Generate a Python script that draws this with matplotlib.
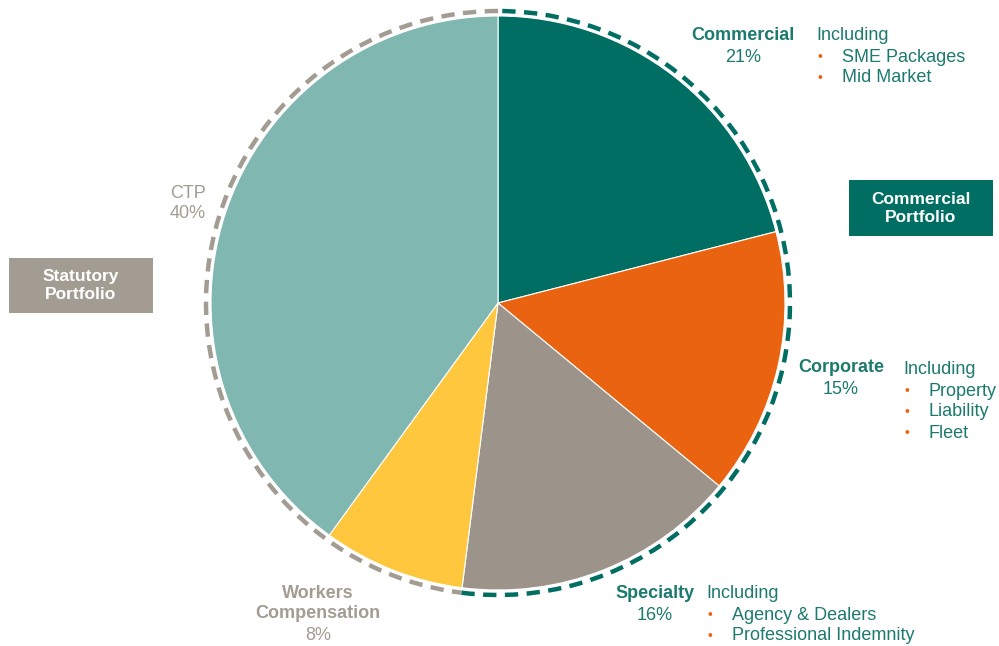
import numpy as np
import matplotlib.pyplot as plt
import matplotlib.patches as patches

plt.rcParams['font.family'] = ['Liberation Sans', 'DejaVu Sans']

# Data
segments = ['Commercial', 'Corporate', 'Specialty', 'Workers Compensation', 'CTP']
shares = [21, 15, 16, 8, 40]
colors = ['#006e63', '#e96310', '#9c948a', '#fec73d', '#80b7b1']
portfolios = ['Commercial\nPortfolio', 'Statutory\nPortfolio']
portfolio_share = [sum(shares[:3]), sum(shares[3:])]
portfolio_colors = ['#006e63', '#a39c93']
includes = {
    'Commercial': ['SME Packages', 'Mid Market'],
    'Corporate': ['Property', 'Liability', 'Fleet'],
    'Specialty': ['Agency & Dealers', 'Professional Indemnity'],
}

W, H = 999, 646
fig = plt.figure(figsize=(W / 100, H / 100), dpi=100)
ax = fig.add_axes([0, 0, 1, 1])

cx, cy, r = 498, H - 303, 287

ax.pie(shares, colors=colors, startangle=90, counterclock=False,
       center=(cx, cy), radius=r, frame=True,
       wedgeprops=dict(edgecolor='white', linewidth=0.8))
ax.set_xlim(0, W)
ax.set_ylim(0, H)
ax.set_aspect('equal')
ax.axis('off')

# Dashed portfolio rings
start = 90
for share, col in zip(portfolio_share, portfolio_colors):
    end = start - share * 3.6
    arc = patches.Arc((cx, cy), 2 * (r + 5), 2 * (r + 5), theta1=end, theta2=start,
                      color=col, linewidth=3.2, linestyle=(0, (3.0, 1.9)))
    ax.add_patch(arc)
    start = end

teal_txt = '#1c7a6e'
grey_txt = '#a39c93'
orange = '#e96310'
fs = 13
lh = 21


def py(y):
    return H - y


def seg_label(x, y, name, pct, color):
    ax.text(x, py(y), name, color=color, fontsize=fs, fontweight='bold',
            ha='center', va='center')
    ax.text(x, py(y + lh), f'{pct}%', color=color, fontsize=fs,
            ha='center', va='center')


def incl_list(x, y, items):
    ax.text(x, py(y), 'Including', color=teal_txt, fontsize=fs, ha='left', va='center')
    for i, it in enumerate(items):
        yy = y + lh * (i + 1)
        ax.text(x + 4, py(yy), '•', color=orange, fontsize=fs - 3, ha='center', va='center')
        ax.text(x + 26, py(yy), it, color=teal_txt, fontsize=fs, ha='left', va='center')


seg_label(743, 36, segments[0], shares[0], teal_txt)
incl_list(816, 36, includes['Commercial'])
seg_label(841, 368, segments[1], shares[1], teal_txt)
incl_list(903, 370, includes['Corporate'])
seg_label(655, 594, segments[2], shares[2], teal_txt)
incl_list(706, 594, includes['Specialty'])

ax.text(318, py(594), 'Workers', color=grey_txt, fontsize=fs, fontweight='bold',
        ha='center', va='center')
ax.text(318, py(614), 'Compensation', color=grey_txt, fontsize=fs, fontweight='bold',
        ha='center', va='center')
ax.text(318, py(635), f'{shares[3]}%', color=grey_txt, fontsize=fs, ha='center', va='center')

ax.text(188, py(193), segments[4], color=grey_txt, fontsize=fs, ha='center', va='center')
ax.text(188, py(214), f'{shares[4]}%', color=grey_txt, fontsize=fs, ha='center', va='center')

# Portfolio boxes
boxes = [(849, 180, 144, 56), (9, 258, 144, 55)]
for (bx, by, bw, bh), lab, col in zip(boxes, portfolios, portfolio_colors):
    ax.add_patch(patches.Rectangle((bx, py(by + bh)), bw, bh, facecolor=col,
                                   edgecolor='none'))
    ax.text(bx + bw / 2, py(by + bh / 2), lab, color='white', fontsize=fs - 0.5,
            fontweight='bold', ha='center', va='center', linespacing=1.25)

fig.savefig('out.png', dpi=100)
